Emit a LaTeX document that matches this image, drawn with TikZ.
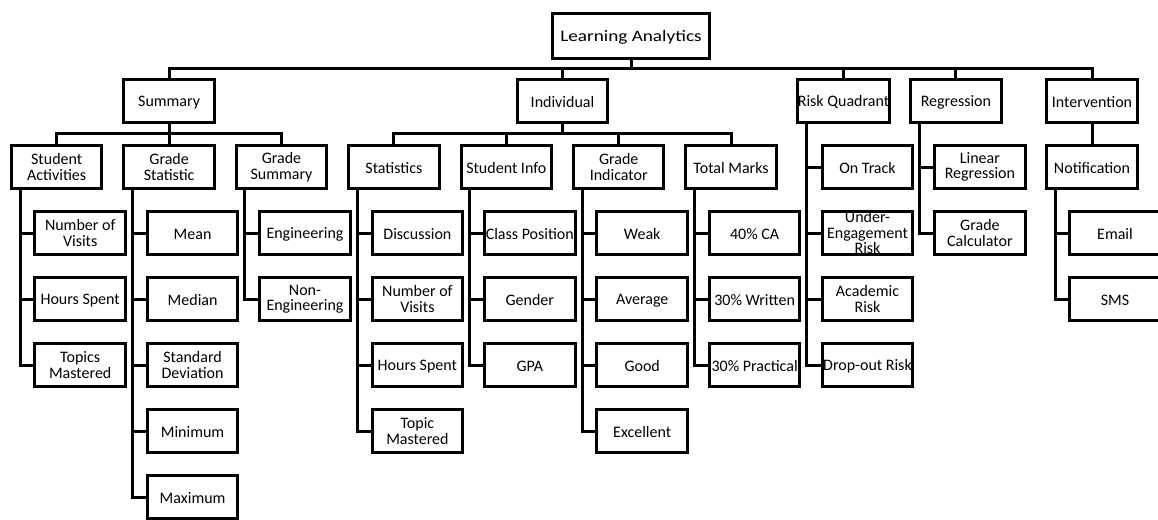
\documentclass[tikz,border=0pt]{standalone}
\usepackage{fontspec}
\usepackage{graphicx}
\setmainfont{Carlito}
\newcommand\boxstrut{\rule[-0.5pt]{0pt}{14.5pt}}
\tikzset{
  box/.style={draw, line width=3pt, minimum width=90.5pt, minimum height=43pt, inner sep=0pt, align=center, font=\fontsize{16}{15.5}\selectfont, fill=white, execute at begin node=\boxstrut, execute at end node=\boxstrut},
  conn/.style={line width=3pt, line join=miter}
}
\begin{document}
\begin{tikzpicture}[x=1pt,y=-1pt]
\useasboundingbox (0,0) rectangle (1158,519);
\coordinate (y1) at (0,68);
\coordinate (y2) at (0,133.5);
% root
\node[box, minimum width=157pt, minimum height=45pt] (root) at (631,36) {\scalebox{1.2}[1]{Learning Analytics}};
% level 1
\node[box] (sum) at (169.1,101) {Summary};
\node[box] (ind) at (562.5,101) {Individual};
\node[box] (rq) at (843.5,101) {Risk Quadrant};
\node[box] (reg) at (955.9,101) {Regression};
\node[box] (int) at (1092,101) {Intervention};
% level 2
\node[box] (sa) at (56.7,167) {Student\\Activities};
\node[box] (gs) at (169.1,167) {Grade\\Statistic};
\node[box] (gsum) at (281.5,167) {Grade\\Summary};
\node[box] (stat) at (393.9,167) {Statistics};
\node[box] (si) at (506.3,167) {Student Info};
\node[box] (gi) at (618.7,167) {Grade\\Indicator};
\node[box] (tm) at (731.1,167) {Total Marks};
\node[box] (notif) at (1092,167) {Notification};
% summary leaves
\node[box] (sa1) at (80.2,233) {Number of\\Visits};
\node[box] (sa2) at (80.2,299) {Hours Spent};
\node[box] (sa3) at (80.2,365) {Topics\\Mastered};
\node[box] (gs1) at (192.6,233) {Mean};
\node[box] (gs2) at (192.6,299) {Median};
\node[box] (gs3) at (192.6,365) {Standard\\Deviation};
\node[box] (gs4) at (192.6,431) {Minimum};
\node[box] (gs5) at (192.6,497) {Maximum};
\node[box] (gm1) at (305,233) {Engineering};
\node[box] (gm2) at (305,299) {Non-\\Engineering};
% individual leaves
\node[box] (st1) at (417.4,233) {Discussion};
\node[box] (st2) at (417.4,299) {Number of\\Visits};
\node[box] (st3) at (417.4,365) {Hours Spent};
\node[box] (st4) at (417.4,431) {Topic\\Mastered};
\node[box] (si1) at (529.8,233) {Class Position};
\node[box] (si2) at (529.8,299) {Gender};
\node[box] (si3) at (529.8,365) {GPA};
\node[box] (gi1) at (642.2,233) {Weak};
\node[box] (gi2) at (642.2,299) {Average};
\node[box] (gi3) at (642.2,365) {Good};
\node[box] (gi4) at (642.2,431) {Excellent};
\node[box] (tm1) at (754.6,233) {40\% CA};
\node[box] (tm2) at (754.6,299) {30\% Written};
\node[box] (tm3) at (754.6,365) {30\% Practical};
% risk quadrant leaves
\node[box] (rq1) at (867.5,167) {On Track};
\node[box] (rq2) at (867.5,233) {Under-\\Engagement\\Risk};
\node[box] (rq3) at (867.5,299) {Academic\\Risk};
\node[box] (rq4) at (867.5,365) {Drop-out Risk};
% regression leaves
\node[box] (rg1) at (979.9,167) {Linear\\Regression};
\node[box] (rg2) at (979.9,233) {Grade\\Calculator};
% notification leaves
\node[box] (nt1) at (1115,233) {Email};
\node[box] (nt2) at (1115,299) {SMS};
% top bus
\draw[conn] (root.south) -- (root.south |- y1);
\draw[conn] (sum.north) -- (sum.north |- y1) -- (int.north |- y1) -- (int.north);
\draw[conn] (ind.north) -- (ind.north |- y1);
\draw[conn] (rq.north) -- (rq.north |- y1);
\draw[conn] (reg.north) -- (reg.north |- y1);
% summary bus
\draw[conn] (sum.south) -- (gs.north);
\draw[conn] (sa.north) -- (sa.north |- y2) -- (gsum.north |- y2) -- (gsum.north);
% individual bus
\draw[conn] (ind.south) -- (ind.south |- y2);
\draw[conn] (stat.north) -- (stat.north |- y2) -- (tm.north |- y2) -- (tm.north);
\draw[conn] (si.north) -- (si.north |- y2);
\draw[conn] (gi.north) -- (gi.north |- y2);
% intervention
\draw[conn] (int.south) -- (notif.north);
% leaf connectors
\foreach \p/\c in {sa/sa1,sa/sa2,sa/sa3,gs/gs1,gs/gs2,gs/gs3,gs/gs4,gs/gs5,gsum/gm1,gsum/gm2,stat/st1,stat/st2,stat/st3,stat/st4,si/si1,si/si2,si/si3,gi/gi1,gi/gi2,gi/gi3,gi/gi4,tm/tm1,tm/tm2,tm/tm3,rq/rq1,rq/rq2,rq/rq3,rq/rq4,reg/rg1,reg/rg2,notif/nt1,notif/nt2}
  \draw[conn] ([xshift=-36.7pt]\p.south) |- (\c.west);
\end{tikzpicture}
\end{document}
